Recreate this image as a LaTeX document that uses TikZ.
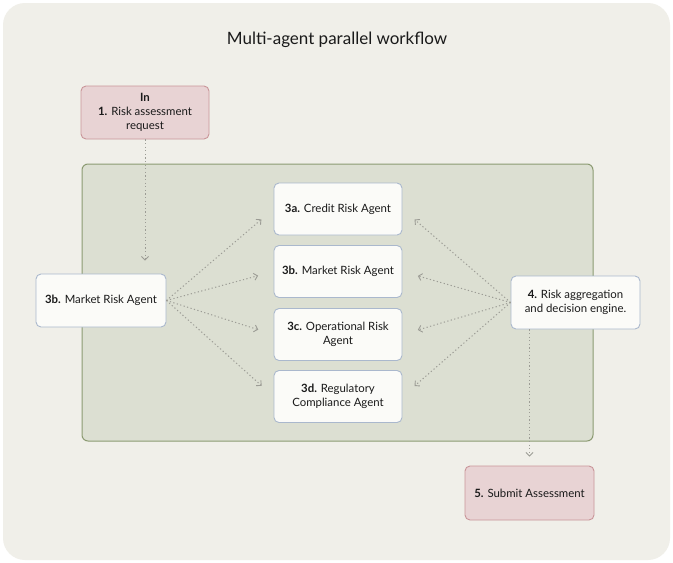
\documentclass[tikz,border=0pt]{standalone}
\usepackage{fontspec}
\setmainfont{Lato}
\usetikzlibrary{arrows.meta}
\definecolor{bgc}{HTML}{F0EFE9}
\definecolor{grnfill}{HTML}{DCDFD2}
\definecolor{grnline}{HTML}{8C9B72}
\definecolor{pkfill}{HTML}{E8D3D4}
\definecolor{pkline}{HTML}{C99599}
\definecolor{wfill}{HTML}{FBFBF8}
\definecolor{wline}{HTML}{AAB8CD}
\definecolor{arrc}{HTML}{9C9C95}
\definecolor{txt}{HTML}{1A1A1A}
\tikzset{
  box/.style={rounded corners=5pt, line width=0.9pt, align=center, text=txt,
    font=\fontsize{11.4}{14}\selectfont, inner sep=2pt, anchor=center},
  wbox/.style={box, fill=wfill, draw=wline},
  pbox/.style={box, fill=pkfill, draw=pkline},
  flow/.style={draw=arrc, line width=1pt, dash pattern=on 1.2pt off 2.4pt,
    -{Straight Barb[length=3.5pt,width=7pt,line width=0.9pt]}}
}
\begin{document}
\begin{tikzpicture}[x=1pt,y=-1pt]
\useasboundingbox (0,0) rectangle (673,563);
\fill[white] (0,0) rectangle (673,563);
\fill[bgc, rounded corners=22pt] (3,3) rectangle (670,560);
\node[font=\fontsize{17}{20}\selectfont, text=txt] (title) at (337,40) {Multi-agent parallel workflow};
\draw[fill=grnfill, draw=grnline, line width=1pt, rounded corners=6pt] (82,164) rectangle (593,441);
\node[pbox, minimum width=128pt, minimum height=53pt] (in) at (145,112.5) {\textbf{In}\\\textbf{1.} Risk assessment\\request};
\node[wbox, minimum width=130pt, minimum height=53pt] (m) at (101,300.5) {\textbf{3b.} Market Risk Agent};
\node[wbox, minimum width=128pt, minimum height=52pt] (a) at (338,209) {\textbf{3a.} Credit Risk Agent};
\node[wbox, minimum width=128pt, minimum height=52pt] (b) at (338,271.5) {\textbf{3b.} Market Risk Agent};
\node[wbox, minimum width=128pt, minimum height=52pt] (c) at (338,334.5) {\textbf{3c.} Operational Risk\\Agent};
\node[wbox, minimum width=128pt, minimum height=52pt] (d) at (338,396.5) {\textbf{3d.} Regulatory\\Compliance Agent};
\node[wbox, minimum width=129pt, minimum height=53pt] (r) at (575.5,302.5) {\textbf{4.} Risk aggregation\\and decision engine.};
\node[pbox, minimum width=129pt, minimum height=54pt] (s) at (529.5,493) {\textbf{5.} Submit Assessment};
\draw[flow, shorten >=13pt] (in.south) -- (in.south |- m.north);
\foreach \t in {a,b,c,d}{
  \draw[flow, shorten >=16pt] (m.east) -- (\t.west);
  \draw[flow, shorten >=16pt] (r.west) -- (\t.east);
}
\draw[flow, shorten >=9pt] (s.north |- r.south) -- (s.north);
\end{tikzpicture}
\end{document}
